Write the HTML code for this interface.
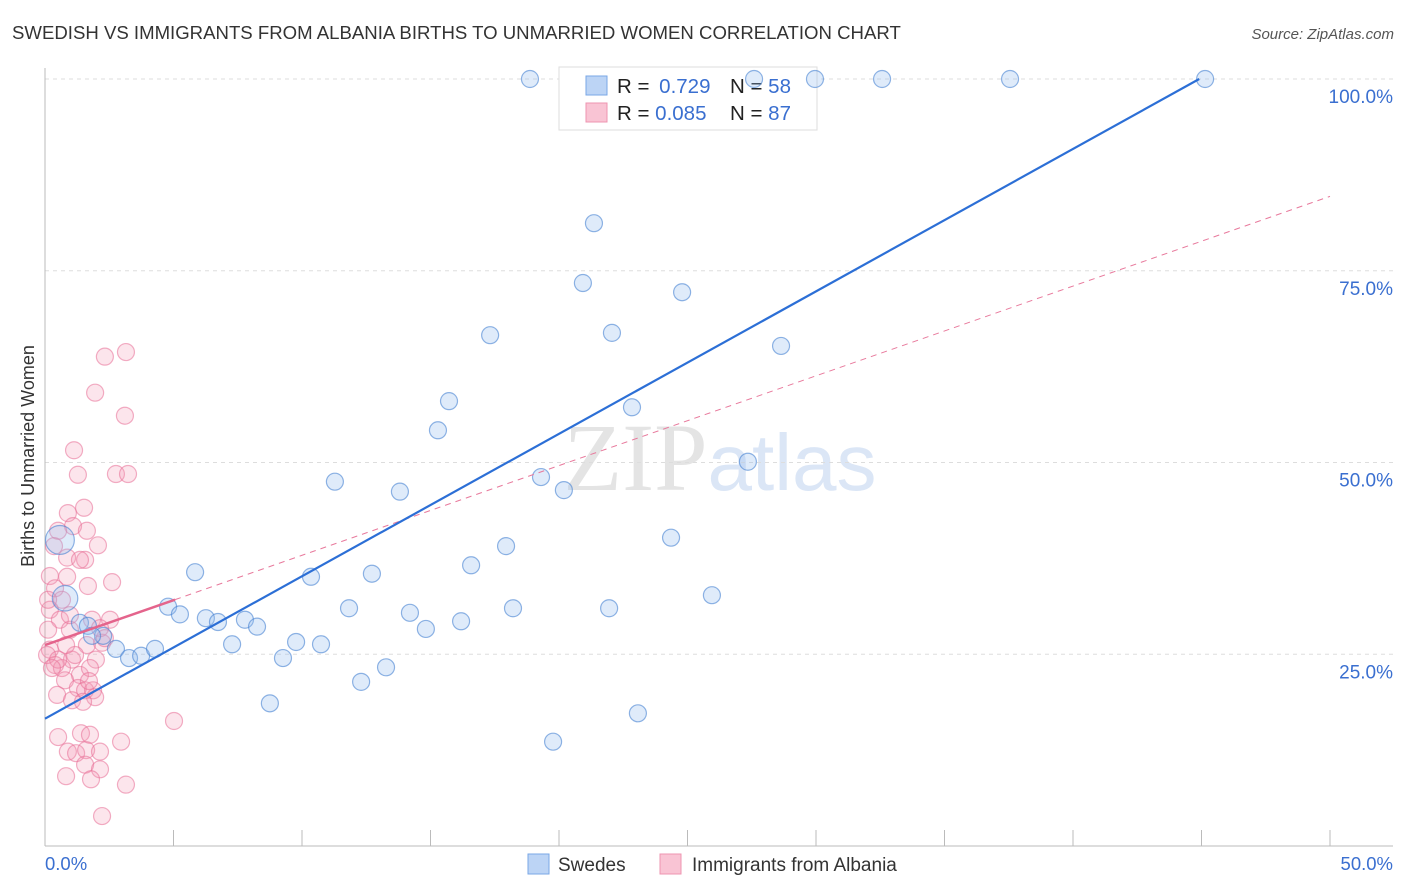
<!DOCTYPE html>
<html><head><meta charset="utf-8"><style>
body{margin:0;background:#fff;font-family:"Liberation Sans",sans-serif;}
svg{display:block}
</style></head><body>
<svg id="chart" width="1406" height="892" xmlns="http://www.w3.org/2000/svg">
<text x="12" y="39" font-size="18.6" fill="#333">SWEDISH VS IMMIGRANTS FROM ALBANIA BIRTHS TO UNMARRIED WOMEN CORRELATION CHART</text>
<text x="1394" y="39" font-size="15" fill="#555" font-style="italic" text-anchor="end">Source: ZipAtlas.com</text>
<text x="720" y="490" font-size="96" fill="#e4e4e4" text-anchor="middle" font-family="Liberation Serif,serif">ZIP<tspan fill="#dbe6f6" font-family="Liberation Sans,sans-serif" font-size="80">atlas</tspan></text>
<g id="grid"></g>
<g id="axes"></g>
<g id="legend-top">
<rect x="559" y="67" width="258" height="63" fill="#fff" stroke="#ddd"/>
<rect x="586" y="76" width="21" height="19" fill="#bcd4f5" stroke="#7aa7e6"/>
<rect x="586" y="103" width="21" height="19" fill="#f9c4d4" stroke="#ee94b0"/>
<text x="617" y="93" font-size="20.5" fill="#222">R = <tspan fill="#3a6fd0" dx="4">0.729</tspan></text>
<text x="730" y="93" font-size="20.5" fill="#222">N = <tspan fill="#3a6fd0">58</tspan></text>
<text x="617" y="120" font-size="20.5" fill="#222">R = <tspan fill="#3a6fd0">0.085</tspan></text>
<text x="730" y="120" font-size="20.5" fill="#222">N = <tspan fill="#3a6fd0">87</tspan></text>
</g>
<g id="points"></g>
<g id="lines"></g>
<g>
<rect x="528" y="854" width="21" height="20" fill="#bcd4f5" stroke="#7aa7e6"/>
<text x="558" y="871" font-size="19" fill="#333">Swedes</text>
<rect x="660" y="854" width="21" height="20" fill="#f9c4d4" stroke="#ee94b0"/>
<text x="692" y="871" font-size="19" fill="#333">Immigrants from Albania</text>
</g>
<text transform="translate(34,456) rotate(-90)" font-size="18" fill="#333" text-anchor="middle">Births to Unmarried Women</text>
<text x="45" y="870" font-size="18.5" fill="#3a6fd0">0.0%</text>
<text x="1393" y="870" font-size="18.5" fill="#3a6fd0" text-anchor="end">50.0%</text>
</svg>
<script>
const yTicks=[100,75,50,25];
const yTickLabels=["100.0%","75.0%","50.0%","25.0%"];
const xTicks=[0,5,10,15,20,25,30,35,40,45,50];
const swedesX=[18.87,27.59,29.96,32.57,37.55,45.14,21.36,20.93,24.79,17.32,22.06,28.64,15.72,22.84,15.29,27.35,11.28,19.30,20.19,13.81,17.94,24.36,5.84,10.35,12.72,16.58,25.95,4.79,5.25,11.83,14.20,18.21,21.95,6.26,6.73,7.78,8.25,16.19,14.82,9.77,10.74,7.28,9.26,2.26,2.76,3.27,3.74,4.28,13.27,12.30,8.75,23.07,19.77,0.58,0.78,1.36,1.67,1.83];
const swedesY=[100,100,100,100,100,100,81.2,73.4,72.2,66.6,66.9,65.2,58.0,57.2,54.2,50.1,47.5,48.1,46.4,46.2,39.1,40.2,35.7,35.1,35.5,36.6,32.7,31.2,30.2,31.0,30.4,31.0,31.0,29.7,29.2,29.5,28.6,29.3,28.3,26.6,26.3,26.3,24.5,27.4,25.7,24.5,24.8,25.7,23.3,21.4,18.6,17.3,13.6,39.9,32.3,29.1,28.7,27.4];
const swedesSize=[1,1,1,1,1,1,1,1,1,1,1,1,1,1,1,1,1,1,1,1,1,1,1,1,1,1,1,1,1,1,1,1,1,1,1,1,1,1,1,1,1,1,1,1,1,1,1,1,1,1,1,1,1,1.7,1.5,1,1,1];
const albX=[3.15,2.33,1.95,3.11,1.13,1.28,2.76,3.23,1.52,0.89,1.09,0.51,1.63,0.35,2.06,0.86,1.56,2.61,0.19,0.86,1.67,0.39,0.66,0.19,1.83,0.58,0.97,1.63,2.22,0.19,1.05,1.98,0.39,0.66,1.36,1.75,0.78,1.28,1.56,1.87,0.47,1.05,1.95,1.48,0.08,0.12,0.12,5.02,0.51,1.40,0.89,1.21,1.60,2.14,2.96,1.56,2.14,0.82,1.79,3.15,2.22,1.75,1.36,2.53,2.14,1.17,0.51,0.82,2.33,1.71,0.97,0.27];
const albY=[64.4,63.8,59.1,56.1,51.6,48.4,48.5,48.5,44.1,43.4,41.7,41.1,41.1,39.1,39.2,37.6,37.3,34.4,35.2,35.1,33.9,33.6,32.1,30.8,29.5,29.5,28.2,26.2,26.5,25.6,24.3,24.3,23.6,23.2,22.3,23.2,21.6,20.6,20.3,20.3,19.7,19.0,19.4,18.8,24.9,28.2,32.1,16.3,14.2,14.7,12.3,12.1,12.5,12.3,13.6,10.6,10.0,9.1,8.7,8.0,3.9,14.5,37.3,29.5,28.4,24.9,24.3,26.2,27.1,21.5,30.1,23.2];
const swedesFit=[16.6,1.857];
const albFit=[26.2,1.17];
const NS="http://www.w3.org/2000/svg";
const X0=45,X1=1330,Y0=846,Y100=79;
function sx(v){return X0+(X1-X0)*v/50;}
function sy(v){return Y0-(Y0-Y100)*v/100;}
function mk(tag,attrs,parent){const e=document.createElementNS(NS,tag);for(const k in attrs)e.setAttribute(k,attrs[k]);parent.appendChild(e);return e;}
const grid=document.getElementById('grid'),axes=document.getElementById('axes'),pts=document.getElementById('points'),lines=document.getElementById('lines');
yTicks.forEach((t,i)=>{
 const l=mk('line',{x1:X0,x2:1393,y1:sy(t),y2:sy(t),stroke:'#ddd','stroke-dasharray':'4,4'},grid);
 
 
 const tx=mk('text',{x:1393,y:sy(t)+24,'font-size':19,fill:'#3a6fd0','text-anchor':'end'},grid);
 tx.textContent=yTickLabels[i];
 
 
});
const xa=mk('line',{x1:X0,x2:1393,y1:Y0,y2:Y0,stroke:'#bbb'},axes);


const ya=mk('line',{x1:X0,x2:X0,y1:68,y2:Y0,stroke:'#bbb'},axes);


xTicks.forEach(t=>{
 const l=mk('line',{x1:sx(t),x2:sx(t),y1:830,y2:Y0,stroke:'#bbb'},axes);
 
 
});
albX.forEach((x,i)=>{
 const c=mk('circle',{cx:sx(x),cy:sy(albY[i]),r:8.5,fill:'rgba(244,150,180,0.25)',stroke:'rgba(232,110,150,0.55)','stroke-width':1.2},pts);
 
 
});
swedesX.forEach((x,i)=>{
 const c=mk('circle',{cx:sx(x),cy:sy(swedesY[i]),r:8.5*swedesSize[i],fill:'rgba(150,190,240,0.3)',stroke:'rgba(70,130,210,0.6)','stroke-width':1.2},pts);
 
 
});
const pd=mk('line',{x1:sx(5.06),y1:sy(albFit[0]+albFit[1]*5.06),x2:sx(50),y2:sy(albFit[0]+albFit[1]*50),stroke:'#e8799c','stroke-width':1,'stroke-dasharray':'6,5'},lines);


const ps=mk('line',{x1:sx(0),y1:sy(albFit[0]),x2:sx(5.06),y2:sy(albFit[0]+albFit[1]*5.06),stroke:'#e4648c','stroke-width':2.5},lines);


const xe=(100-swedesFit[0])/swedesFit[1];
const bl=mk('line',{x1:sx(0),y1:sy(swedesFit[0]),x2:sx(xe),y2:sy(100),stroke:'#2c6fd6','stroke-width':2.2},lines);


</script>
</body></html>
